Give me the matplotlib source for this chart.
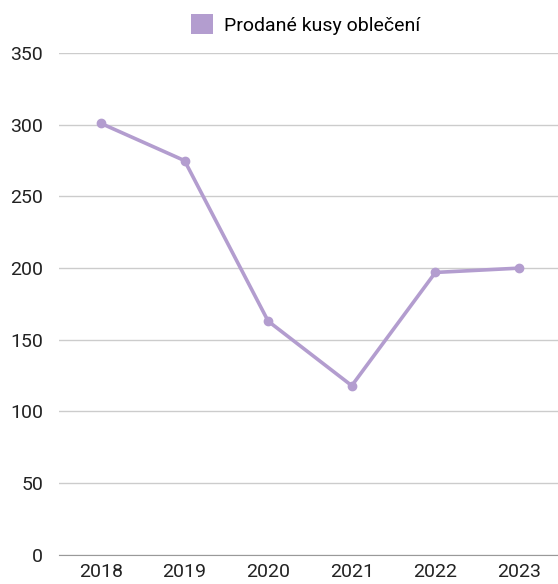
import matplotlib.pyplot as plt
from matplotlib.patches import Patch

plt.rcParams['font.family'] = ['Roboto', 'DejaVu Sans']

years = ['2018', '2019', '2020', '2021', '2022', '2023']
sold = [301, 275, 163, 118, 197, 200]
series_name = 'Prodané kusy oblečení'
yticks = [0, 50, 100, 150, 200, 250, 300, 350]

color = '#b39dcf'

fig = plt.figure(figsize=(5.58, 5.84), dpi=100)
ax = fig.add_axes([0.106, 0.05, 0.899, 0.859])

x = list(range(len(years)))
ax.plot(x, sold, color=color, linewidth=2.6, marker='o', markersize=6,
        solid_joinstyle='round')

ax.set_xlim(-0.5, len(years) - 0.5)
ax.set_ylim(0, 350)
ax.set_yticks(yticks)
ax.set_xticks(x)
ax.set_xticklabels(years)
ax.grid(axis='y', color='#cccccc', linewidth=1)
ax.set_axisbelow(True)
for s in ['top', 'right', 'left']:
    ax.spines[s].set_visible(False)
ax.spines['bottom'].set_color('#999999')
ax.tick_params(length=0, labelsize=14, colors='#222222')
ax.tick_params(axis='y', pad=11.5)
ax.tick_params(axis='x', pad=6)

handle = Patch(facecolor=color, edgecolor='none')
fig.legend([handle], [series_name], loc='center', bbox_to_anchor=(0.547, 0.958),
           frameon=False, fontsize=14, handlelength=1.15, handleheight=1.15,
           handletextpad=0.55)

fig.savefig('out.png', dpi=100)
